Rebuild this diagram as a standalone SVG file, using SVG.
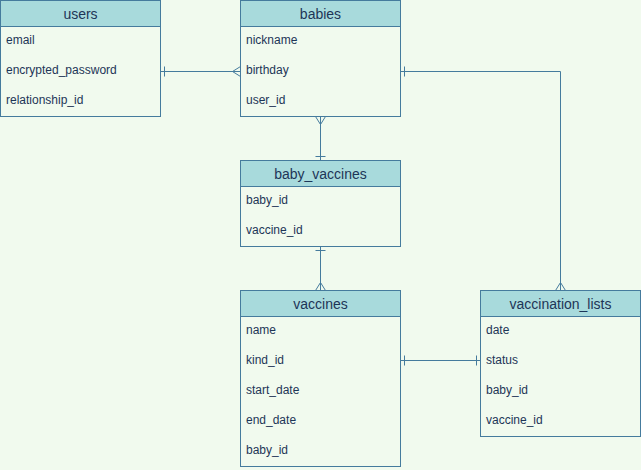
<svg xmlns="http://www.w3.org/2000/svg" width="641" height="470" viewBox="0 0 641 470">
<defs>
<style>
.bg{fill:#F1FAEE}
.box{fill:#F1FAEE;stroke:#457B9D;stroke-width:1}
.hdr{fill:#A8DADC;stroke:#457B9D;stroke-width:1}
.t{font-family:"Liberation Sans",Arial,sans-serif;font-size:14px;fill:#1D3557;text-anchor:middle}
.r{font-family:"Liberation Sans",Arial,sans-serif;font-size:12px;fill:#1D3557}
.c{fill:none;stroke:#457B9D;stroke-width:1}
</style>
</defs>
<rect class="bg" x="0" y="0" width="641" height="470"/>
<g id="users">
<rect class="box" x="0.5" y="0.5" width="160" height="116"/>
<rect class="hdr" x="0.5" y="0.5" width="160" height="26"/>
<text class="t" x="80.5" y="18.5">users</text>
<text class="r" x="6" y="44">email</text>
<text class="r" x="6" y="74">encrypted_password</text>
<text class="r" x="6" y="104">relationship_id</text>
</g>
<g id="babies">
<rect class="box" x="240.5" y="0.5" width="160" height="116"/>
<rect class="hdr" x="240.5" y="0.5" width="160" height="26"/>
<text class="t" x="320.5" y="18.5">babies</text>
<text class="r" x="246" y="44">nickname</text>
<text class="r" x="246" y="74">birthday</text>
<text class="r" x="246" y="104">user_id</text>
</g>
<g id="baby_vaccines">
<rect class="box" x="240.5" y="160.5" width="160" height="86"/>
<rect class="hdr" x="240.5" y="160.5" width="160" height="26"/>
<text class="t" x="320.5" y="178.5">baby_vaccines</text>
<text class="r" x="246" y="204">baby_id</text>
<text class="r" x="246" y="234">vaccine_id</text>
</g>
<g id="vaccines">
<rect class="box" x="240.5" y="290.5" width="160" height="176"/>
<rect class="hdr" x="240.5" y="290.5" width="160" height="26"/>
<text class="t" x="320.5" y="308.5">vaccines</text>
<text class="r" x="246" y="334">name</text>
<text class="r" x="246" y="364">kind_id</text>
<text class="r" x="246" y="394">start_date</text>
<text class="r" x="246" y="424">end_date</text>
<text class="r" x="246" y="454">baby_id</text>
</g>
<g id="vaccination_lists">
<rect class="box" x="480.5" y="290.5" width="160" height="146"/>
<rect class="hdr" x="480.5" y="290.5" width="160" height="26"/>
<text class="t" x="560.5" y="308.5">vaccination_lists</text>
<text class="r" x="486" y="334">date</text>
<text class="r" x="486" y="364">status</text>
<text class="r" x="486" y="394">baby_id</text>
<text class="r" x="486" y="424">vaccine_id</text>
</g>
<g id="connectors">
<path class="c" d="M160.5 71.5 H240.5"/>
<path class="c" d="M164.5 66.5 V76.5"/>
<path class="c" d="M240.5 66.5 L232.5 71.5 L240.5 76.5"/>
<path class="c" d="M320.5 116.5 V160.5"/>
<path class="c" d="M315.5 116.5 L320.5 124.5 L325.5 116.5"/>
<path class="c" d="M315.5 156.5 H325.5"/>
<path class="c" d="M320.5 246.5 V290.5"/>
<path class="c" d="M315.5 250.5 H325.5"/>
<path class="c" d="M315.5 290.5 L320.5 282.5 L325.5 290.5"/>
<path class="c" d="M400.5 71.5 H560.5 V290.5"/>
<path class="c" d="M404.5 66.5 V76.5"/>
<path class="c" d="M555.5 290.5 L560.5 282.5 L565.5 290.5"/>
<path class="c" d="M400.5 360.5 H480.5"/>
<path class="c" d="M404.5 355.5 V365.5"/>
<path class="c" d="M476.5 355.5 V365.5"/>
</g>
</svg>
